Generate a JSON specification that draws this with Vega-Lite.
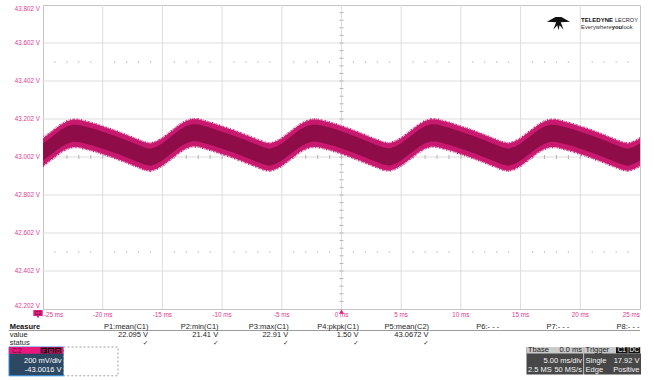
{
  "$schema": "https://vega.github.io/schema/vega-lite/v6.json",
  "width": 597,
  "height": 304,
  "autosize": "none",
  "padding": {"left": 43, "top": 5, "right": 14, "bottom": 71},
  "background": "#ffffff",
  "config": {
    "font": "Liberation Sans",
    "view": {"stroke": "#c4c4c4", "strokeWidth": 1},
    "text": {"font": "Liberation Sans"}
  },
  "datasets": {
    "trace": [
      {"t": -25, "lo": 42.956, "hi": 43.100, "clo": 42.983, "chi": 43.073},
      {"t": -24.5, "lo": 42.980, "hi": 43.124, "clo": 43.007, "chi": 43.097},
      {"t": -24, "lo": 43.004, "hi": 43.148, "clo": 43.031, "chi": 43.121},
      {"t": -23.5, "lo": 43.028, "hi": 43.172, "clo": 43.055, "chi": 43.145},
      {"t": -23, "lo": 43.045, "hi": 43.189, "clo": 43.072, "chi": 43.162},
      {"t": -22.5, "lo": 43.055, "hi": 43.199, "clo": 43.082, "chi": 43.172},
      {"t": -22, "lo": 43.054, "hi": 43.198, "clo": 43.081, "chi": 43.171},
      {"t": -21.5, "lo": 43.046, "hi": 43.190, "clo": 43.073, "chi": 43.163},
      {"t": -21, "lo": 43.038, "hi": 43.182, "clo": 43.065, "chi": 43.155},
      {"t": -20.5, "lo": 43.029, "hi": 43.173, "clo": 43.056, "chi": 43.146},
      {"t": -20, "lo": 43.018, "hi": 43.162, "clo": 43.045, "chi": 43.135},
      {"t": -19.5, "lo": 43.008, "hi": 43.152, "clo": 43.035, "chi": 43.125},
      {"t": -19, "lo": 42.997, "hi": 43.141, "clo": 43.024, "chi": 43.114},
      {"t": -18.5, "lo": 42.985, "hi": 43.129, "clo": 43.012, "chi": 43.102},
      {"t": -18, "lo": 42.973, "hi": 43.117, "clo": 43.000, "chi": 43.090},
      {"t": -17.5, "lo": 42.960, "hi": 43.104, "clo": 42.987, "chi": 43.077},
      {"t": -17, "lo": 42.948, "hi": 43.092, "clo": 42.975, "chi": 43.065},
      {"t": -16.5, "lo": 42.935, "hi": 43.079, "clo": 42.962, "chi": 43.052},
      {"t": -16, "lo": 42.929, "hi": 43.073, "clo": 42.956, "chi": 43.046},
      {"t": -15.5, "lo": 42.939, "hi": 43.083, "clo": 42.966, "chi": 43.056},
      {"t": -15, "lo": 42.957, "hi": 43.101, "clo": 42.984, "chi": 43.074},
      {"t": -14.5, "lo": 42.981, "hi": 43.125, "clo": 43.008, "chi": 43.098},
      {"t": -14, "lo": 43.006, "hi": 43.150, "clo": 43.033, "chi": 43.123},
      {"t": -13.5, "lo": 43.030, "hi": 43.174, "clo": 43.057, "chi": 43.147},
      {"t": -13, "lo": 43.048, "hi": 43.192, "clo": 43.075, "chi": 43.165},
      {"t": -12.5, "lo": 43.058, "hi": 43.202, "clo": 43.085, "chi": 43.175},
      {"t": -12, "lo": 43.057, "hi": 43.201, "clo": 43.084, "chi": 43.174},
      {"t": -11.5, "lo": 43.048, "hi": 43.192, "clo": 43.075, "chi": 43.165},
      {"t": -11, "lo": 43.039, "hi": 43.183, "clo": 43.066, "chi": 43.156},
      {"t": -10.5, "lo": 43.029, "hi": 43.173, "clo": 43.056, "chi": 43.146},
      {"t": -10, "lo": 43.018, "hi": 43.162, "clo": 43.045, "chi": 43.135},
      {"t": -9.5, "lo": 43.008, "hi": 43.152, "clo": 43.035, "chi": 43.125},
      {"t": -9, "lo": 42.997, "hi": 43.141, "clo": 43.024, "chi": 43.114},
      {"t": -8.5, "lo": 42.985, "hi": 43.129, "clo": 43.012, "chi": 43.102},
      {"t": -8, "lo": 42.973, "hi": 43.117, "clo": 43.000, "chi": 43.090},
      {"t": -7.5, "lo": 42.960, "hi": 43.104, "clo": 42.987, "chi": 43.077},
      {"t": -7, "lo": 42.948, "hi": 43.092, "clo": 42.975, "chi": 43.065},
      {"t": -6.5, "lo": 42.935, "hi": 43.079, "clo": 42.962, "chi": 43.052},
      {"t": -6, "lo": 42.929, "hi": 43.073, "clo": 42.956, "chi": 43.046},
      {"t": -5.5, "lo": 42.939, "hi": 43.083, "clo": 42.966, "chi": 43.056},
      {"t": -5, "lo": 42.956, "hi": 43.100, "clo": 42.983, "chi": 43.073},
      {"t": -4.5, "lo": 42.980, "hi": 43.124, "clo": 43.007, "chi": 43.097},
      {"t": -4, "lo": 43.004, "hi": 43.148, "clo": 43.031, "chi": 43.121},
      {"t": -3.5, "lo": 43.028, "hi": 43.172, "clo": 43.055, "chi": 43.145},
      {"t": -3, "lo": 43.045, "hi": 43.189, "clo": 43.072, "chi": 43.162},
      {"t": -2.5, "lo": 43.055, "hi": 43.199, "clo": 43.082, "chi": 43.172},
      {"t": -2, "lo": 43.055, "hi": 43.199, "clo": 43.082, "chi": 43.172},
      {"t": -1.5, "lo": 43.048, "hi": 43.192, "clo": 43.075, "chi": 43.165},
      {"t": -1, "lo": 43.040, "hi": 43.184, "clo": 43.067, "chi": 43.157},
      {"t": -0.5, "lo": 43.031, "hi": 43.175, "clo": 43.058, "chi": 43.148},
      {"t": 0, "lo": 43.020, "hi": 43.164, "clo": 43.047, "chi": 43.137},
      {"t": 0.5, "lo": 43.009, "hi": 43.153, "clo": 43.036, "chi": 43.126},
      {"t": 1, "lo": 42.997, "hi": 43.141, "clo": 43.024, "chi": 43.114},
      {"t": 1.5, "lo": 42.985, "hi": 43.129, "clo": 43.012, "chi": 43.102},
      {"t": 2, "lo": 42.972, "hi": 43.116, "clo": 42.999, "chi": 43.089},
      {"t": 2.5, "lo": 42.959, "hi": 43.103, "clo": 42.986, "chi": 43.076},
      {"t": 3, "lo": 42.947, "hi": 43.091, "clo": 42.974, "chi": 43.064},
      {"t": 3.5, "lo": 42.935, "hi": 43.079, "clo": 42.962, "chi": 43.052},
      {"t": 4, "lo": 42.930, "hi": 43.074, "clo": 42.957, "chi": 43.047},
      {"t": 4.5, "lo": 42.940, "hi": 43.084, "clo": 42.967, "chi": 43.057},
      {"t": 5, "lo": 42.957, "hi": 43.101, "clo": 42.984, "chi": 43.074},
      {"t": 5.5, "lo": 42.981, "hi": 43.125, "clo": 43.008, "chi": 43.098},
      {"t": 6, "lo": 43.005, "hi": 43.149, "clo": 43.032, "chi": 43.122},
      {"t": 6.5, "lo": 43.029, "hi": 43.173, "clo": 43.056, "chi": 43.146},
      {"t": 7, "lo": 43.047, "hi": 43.191, "clo": 43.074, "chi": 43.164},
      {"t": 7.5, "lo": 43.057, "hi": 43.201, "clo": 43.084, "chi": 43.174},
      {"t": 8, "lo": 43.056, "hi": 43.200, "clo": 43.083, "chi": 43.173},
      {"t": 8.5, "lo": 43.047, "hi": 43.191, "clo": 43.074, "chi": 43.164},
      {"t": 9, "lo": 43.039, "hi": 43.183, "clo": 43.066, "chi": 43.156},
      {"t": 9.5, "lo": 43.029, "hi": 43.173, "clo": 43.056, "chi": 43.146},
      {"t": 10, "lo": 43.018, "hi": 43.162, "clo": 43.045, "chi": 43.135},
      {"t": 10.5, "lo": 43.008, "hi": 43.152, "clo": 43.035, "chi": 43.125},
      {"t": 11, "lo": 42.997, "hi": 43.141, "clo": 43.024, "chi": 43.114},
      {"t": 11.5, "lo": 42.985, "hi": 43.129, "clo": 43.012, "chi": 43.102},
      {"t": 12, "lo": 42.973, "hi": 43.117, "clo": 43.000, "chi": 43.090},
      {"t": 12.5, "lo": 42.960, "hi": 43.104, "clo": 42.987, "chi": 43.077},
      {"t": 13, "lo": 42.948, "hi": 43.092, "clo": 42.975, "chi": 43.065},
      {"t": 13.5, "lo": 42.935, "hi": 43.079, "clo": 42.962, "chi": 43.052},
      {"t": 14, "lo": 42.929, "hi": 43.073, "clo": 42.956, "chi": 43.046},
      {"t": 14.5, "lo": 42.939, "hi": 43.083, "clo": 42.966, "chi": 43.056},
      {"t": 15, "lo": 42.956, "hi": 43.100, "clo": 42.983, "chi": 43.073},
      {"t": 15.5, "lo": 42.980, "hi": 43.124, "clo": 43.007, "chi": 43.097},
      {"t": 16, "lo": 43.004, "hi": 43.148, "clo": 43.031, "chi": 43.121},
      {"t": 16.5, "lo": 43.028, "hi": 43.172, "clo": 43.055, "chi": 43.145},
      {"t": 17, "lo": 43.045, "hi": 43.189, "clo": 43.072, "chi": 43.162},
      {"t": 17.5, "lo": 43.055, "hi": 43.199, "clo": 43.082, "chi": 43.172},
      {"t": 18, "lo": 43.054, "hi": 43.198, "clo": 43.081, "chi": 43.171},
      {"t": 18.5, "lo": 43.046, "hi": 43.190, "clo": 43.073, "chi": 43.163},
      {"t": 19, "lo": 43.038, "hi": 43.182, "clo": 43.065, "chi": 43.155},
      {"t": 19.5, "lo": 43.029, "hi": 43.173, "clo": 43.056, "chi": 43.146},
      {"t": 20, "lo": 43.018, "hi": 43.162, "clo": 43.045, "chi": 43.135},
      {"t": 20.5, "lo": 43.008, "hi": 43.152, "clo": 43.035, "chi": 43.125},
      {"t": 21, "lo": 42.997, "hi": 43.141, "clo": 43.024, "chi": 43.114},
      {"t": 21.5, "lo": 42.985, "hi": 43.129, "clo": 43.012, "chi": 43.102},
      {"t": 22, "lo": 42.973, "hi": 43.117, "clo": 43.000, "chi": 43.090},
      {"t": 22.5, "lo": 42.960, "hi": 43.104, "clo": 42.987, "chi": 43.077},
      {"t": 23, "lo": 42.948, "hi": 43.092, "clo": 42.975, "chi": 43.065},
      {"t": 23.5, "lo": 42.935, "hi": 43.079, "clo": 42.962, "chi": 43.052},
      {"t": 24, "lo": 42.929, "hi": 43.073, "clo": 42.956, "chi": 43.046},
      {"t": 24.5, "lo": 42.939, "hi": 43.083, "clo": 42.966, "chi": 43.056},
      {"t": 25, "lo": 42.956, "hi": 43.100, "clo": 42.983, "chi": 43.073}
    ],
    "tdivs": [
      {"t": -25, "label": "-25 ms"}, {"t": -20, "label": "-20 ms"}, {"t": -15, "label": "-15 ms"},
      {"t": -10, "label": "-10 ms"}, {"t": -5, "label": "-5 ms"}, {"t": 0, "label": "0 ms"},
      {"t": 5, "label": "5 ms"}, {"t": 10, "label": "10 ms"}, {"t": 15, "label": "15 ms"},
      {"t": 20, "label": "20 ms"}, {"t": 25, "label": "25 ms"}
    ],
    "vdivs": [
      {"v": 42.202, "label": "42.202 V"}, {"v": 42.402, "label": "42.402 V"}, {"v": 42.602, "label": "42.602 V"},
      {"v": 42.802, "label": "42.802 V"}, {"v": 43.002, "label": "43.002 V"}, {"v": 43.202, "label": "43.202 V"},
      {"v": 43.402, "label": "43.402 V"}, {"v": 43.602, "label": "43.602 V"}, {"v": 43.802, "label": "43.802 V"}
    ],
    "ms": [
      {"t": -24}, {"t": -23}, {"t": -22}, {"t": -21}, {"t": -20}, {"t": -19}, {"t": -18}, {"t": -17}, {"t": -16}, {"t": -15},
      {"t": -14}, {"t": -13}, {"t": -12}, {"t": -11}, {"t": -10}, {"t": -9}, {"t": -8}, {"t": -7}, {"t": -6}, {"t": -5},
      {"t": -4}, {"t": -3}, {"t": -2}, {"t": -1}, {"t": 0}, {"t": 1}, {"t": 2}, {"t": 3}, {"t": 4}, {"t": 5},
      {"t": 6}, {"t": 7}, {"t": 8}, {"t": 9}, {"t": 10}, {"t": 11}, {"t": 12}, {"t": 13}, {"t": 14}, {"t": 15},
      {"t": 16}, {"t": 17}, {"t": 18}, {"t": 19}, {"t": 20}, {"t": 21}, {"t": 22}, {"t": 23}, {"t": 24}
    ],
    "volts": [
      {"v": 42.242}, {"v": 42.282}, {"v": 42.322}, {"v": 42.362}, {"v": 42.402}, {"v": 42.442}, {"v": 42.482}, {"v": 42.522},
      {"v": 42.562}, {"v": 42.602}, {"v": 42.642}, {"v": 42.682}, {"v": 42.722}, {"v": 42.762}, {"v": 42.802}, {"v": 42.842},
      {"v": 42.882}, {"v": 42.922}, {"v": 42.962}, {"v": 43.002}, {"v": 43.042}, {"v": 43.082}, {"v": 43.122}, {"v": 43.162},
      {"v": 43.202}, {"v": 43.242}, {"v": 43.282}, {"v": 43.322}, {"v": 43.362}, {"v": 43.402}, {"v": 43.442}, {"v": 43.482},
      {"v": 43.522}, {"v": 43.562}, {"v": 43.602}, {"v": 43.642}, {"v": 43.682}, {"v": 43.722}, {"v": 43.762}
    ],
    "markers": [
      {"kind": "trigger", "t": 0, "v": 42.202, "label": ""},
      {"kind": "offset", "t": -25, "v": 42.202, "label": "C2"}
    ],
    "brand": [{"name": "Teledyne LeCroy"}],
    "rowlabels": [{"label": "Measure"}, {"label": "value"}, {"label": "status"}],
    "params": [
      {"col": "P1", "header": "P1:mean(C1)", "value": "22.095 V", "status": "✓"},
      {"col": "P2", "header": "P2:min(C1)", "value": "21.41 V", "status": "✓"},
      {"col": "P3", "header": "P3:max(C1)", "value": "22.91 V", "status": "✓"},
      {"col": "P4", "header": "P4:pkpk(C1)", "value": "1.50 V", "status": "✓"},
      {"col": "P5", "header": "P5:mean(C2)", "value": "43.0672 V", "status": "✓"},
      {"col": "P6", "header": "P6:- - -", "value": "", "status": ""},
      {"col": "P7", "header": "P7:- - -", "value": "", "status": ""},
      {"col": "P8", "header": "P8:- - -", "value": "", "status": ""}
    ],
    "channel": [{"widget": "C2", "name": "C2", "scale": "200 mV/div", "offset": "-43.0016 V"}],
    "flags": [{"flag": "F"}, {"flag": "B"}, {"flag": "D"}],
    "acq": [
      {"widget": "Tbase", "line": "head", "left": "Tbase", "right": "0.0 ms"},
      {"widget": "Tbase", "line": "l1", "left": "", "right": "5.00 ms/div"},
      {"widget": "Tbase", "line": "l2", "left": "2.5 MS", "right": "50 MS/s"},
      {"widget": "Trigger", "line": "head", "left": "Trigger", "right": ""},
      {"widget": "Trigger", "line": "l1", "left": "Single", "right": "17.92 V"},
      {"widget": "Trigger", "line": "l2", "left": "Edge", "right": "Positive"}
    ],
    "tags": [{"tag": "C1"}, {"tag": "DC"}]
  },
  "resolve": {"scale": {"x": "independent", "y": "independent"}},
  "layer": [
    {
      "layer": [
        {
          "data": {"name": "tdivs"},
          "transform": [{"filter": "datum.t > -25 && datum.t < 25"}],
          "mark": {"type": "rule", "color": "#dddddd", "strokeWidth": 1},
          "encoding": {
            "x": {"field": "t", "type": "quantitative", "scale": {"domain": [-25, 25], "nice": false, "zero": false}, "axis": null}
          }
        },
        {
          "data": {"name": "vdivs"},
          "transform": [{"filter": "datum.v > 42.21 && datum.v < 43.79"}],
          "mark": {"type": "rule", "color": "#dddddd", "strokeWidth": 1},
          "encoding": {
            "y": {"field": "v", "type": "quantitative", "scale": {"domain": [42.202, 43.802], "nice": false, "zero": false}, "axis": null}
          }
        },
        {
          "data": {"name": "ms"},
          "mark": {"type": "tick", "orient": "vertical", "size": 4, "thickness": 1, "color": "#b5b5b5", "opacity": 1},
          "encoding": {
            "x": {"field": "t", "type": "quantitative", "scale": {"domain": [-25, 25], "nice": false, "zero": false}, "axis": null},
            "y": {"datum": 43.002, "type": "quantitative", "scale": {"domain": [42.202, 43.802], "nice": false, "zero": false}, "axis": null}
          }
        },
        {
          "data": {"name": "ms"},
          "transform": [{"filter": "datum.t % 5 !== 0"}],
          "mark": {"type": "tick", "orient": "vertical", "size": 2, "thickness": 1, "color": "#c9c9c9", "opacity": 1},
          "encoding": {
            "x": {"field": "t", "type": "quantitative", "scale": {"domain": [-25, 25], "nice": false, "zero": false}, "axis": null},
            "y": {"datum": 43.502, "type": "quantitative", "scale": {"domain": [42.202, 43.802], "nice": false, "zero": false}, "axis": null}
          }
        },
        {
          "data": {"name": "ms"},
          "transform": [{"filter": "datum.t % 5 !== 0"}],
          "mark": {"type": "tick", "orient": "vertical", "size": 2, "thickness": 1, "color": "#c9c9c9", "opacity": 1},
          "encoding": {
            "x": {"field": "t", "type": "quantitative", "scale": {"domain": [-25, 25], "nice": false, "zero": false}, "axis": null},
            "y": {"datum": 42.502, "type": "quantitative", "scale": {"domain": [42.202, 43.802], "nice": false, "zero": false}, "axis": null}
          }
        },
        {
          "data": {"name": "volts"},
          "mark": {"type": "tick", "orient": "horizontal", "size": 4, "thickness": 1, "color": "#b5b5b5", "opacity": 1},
          "encoding": {
            "x": {"datum": 0, "type": "quantitative", "scale": {"domain": [-25, 25], "nice": false, "zero": false}, "axis": null},
            "y": {"field": "v", "type": "quantitative", "scale": {"domain": [42.202, 43.802], "nice": false, "zero": false}, "axis": null}
          }
        },
        {
          "data": {"name": "trace"},
          "mark": {"type": "area", "fill": "#c8196e", "stroke": "#cc2277", "strokeWidth": 2.4, "strokeDash": [1, 0.7, 0.6, 1.3, 1.4, 0.9, 0.5, 1.1], "clip": true},
          "encoding": {
            "x": {"field": "t", "type": "quantitative", "scale": {"domain": [-25, 25], "nice": false, "zero": false}, "axis": null},
            "y": {"field": "lo", "type": "quantitative", "scale": {"domain": [42.202, 43.802], "nice": false, "zero": false}, "axis": null},
            "y2": {"field": "hi"}
          }
        },
        {
          "data": {"name": "trace"},
          "mark": {"type": "area", "fill": "#8e0c48", "clip": true},
          "encoding": {
            "x": {"field": "t", "type": "quantitative", "scale": {"domain": [-25, 25], "nice": false, "zero": false}, "axis": null},
            "y": {"field": "clo", "type": "quantitative", "scale": {"domain": [42.202, 43.802], "nice": false, "zero": false}, "axis": null},
            "y2": {"field": "chi"}
          }
        },
        {
          "data": {"name": "vdivs"},
          "transform": [{"filter": "datum.v > 42.21 && datum.v < 43.79"}],
          "mark": {"type": "text", "align": "right", "baseline": "middle", "dx": -3, "fontSize": 6.3, "color": "#dc3d8f"},
          "encoding": {
            "x": {"datum": -25, "type": "quantitative", "scale": {"domain": [-25, 25], "nice": false, "zero": false}, "axis": null},
            "y": {"field": "v", "type": "quantitative", "scale": {"domain": [42.202, 43.802], "nice": false, "zero": false}, "axis": null},
            "text": {"field": "label"}
          }
        },
        {
          "data": {"name": "vdivs"},
          "transform": [{"filter": "datum.v > 43.79"}],
          "mark": {"type": "text", "align": "right", "baseline": "top", "dx": -3, "dy": 0.5, "fontSize": 6.3, "color": "#dc3d8f"},
          "encoding": {
            "x": {"datum": -25, "type": "quantitative", "scale": {"domain": [-25, 25], "nice": false, "zero": false}, "axis": null},
            "y": {"field": "v", "type": "quantitative", "scale": {"domain": [42.202, 43.802], "nice": false, "zero": false}, "axis": null},
            "text": {"field": "label"}
          }
        },
        {
          "data": {"name": "vdivs"},
          "transform": [{"filter": "datum.v < 42.21"}],
          "mark": {"type": "text", "align": "right", "baseline": "bottom", "dx": -3, "fontSize": 6.3, "color": "#dc3d8f"},
          "encoding": {
            "x": {"datum": -25, "type": "quantitative", "scale": {"domain": [-25, 25], "nice": false, "zero": false}, "axis": null},
            "y": {"field": "v", "type": "quantitative", "scale": {"domain": [42.202, 43.802], "nice": false, "zero": false}, "axis": null},
            "text": {"field": "label"}
          }
        },
        {
          "data": {"name": "tdivs"},
          "transform": [{"filter": "datum.t > -25 && datum.t < 25"}],
          "mark": {"type": "text", "align": "center", "baseline": "top", "dy": 2.5, "fontSize": 6.3, "color": "#dc3d8f"},
          "encoding": {
            "x": {"field": "t", "type": "quantitative", "scale": {"domain": [-25, 25], "nice": false, "zero": false}, "axis": null},
            "y": {"datum": 42.202, "type": "quantitative", "scale": {"domain": [42.202, 43.802], "nice": false, "zero": false}, "axis": null},
            "text": {"field": "label"}
          }
        },
        {
          "data": {"name": "tdivs"},
          "transform": [{"filter": "datum.t === -25"}],
          "mark": {"type": "text", "align": "left", "baseline": "top", "dy": 2.5, "dx": 1, "fontSize": 6.3, "color": "#dc3d8f"},
          "encoding": {
            "x": {"field": "t", "type": "quantitative", "scale": {"domain": [-25, 25], "nice": false, "zero": false}, "axis": null},
            "y": {"datum": 42.202, "type": "quantitative", "scale": {"domain": [42.202, 43.802], "nice": false, "zero": false}, "axis": null},
            "text": {"field": "label"}
          }
        },
        {
          "data": {"name": "tdivs"},
          "transform": [{"filter": "datum.t === 25"}],
          "mark": {"type": "text", "align": "right", "baseline": "top", "dy": 2.5, "fontSize": 6.3, "color": "#dc3d8f"},
          "encoding": {
            "x": {"field": "t", "type": "quantitative", "scale": {"domain": [-25, 25], "nice": false, "zero": false}, "axis": null},
            "y": {"datum": 42.202, "type": "quantitative", "scale": {"domain": [42.202, 43.802], "nice": false, "zero": false}, "axis": null},
            "text": {"field": "label"}
          }
        },
        {
          "data": {"name": "markers"},
          "transform": [{"filter": "datum.kind === 'trigger'"}],
          "mark": {"type": "point", "shape": "M0,0.2 L0.85,1.6 L-0.85,1.6 Z", "size": 36, "filled": true, "color": "#e2207f", "opacity": 1, "strokeWidth": 0},
          "encoding": {
            "x": {"field": "t", "type": "quantitative", "scale": {"domain": [-25, 25], "nice": false, "zero": false}, "axis": null},
            "y": {"field": "v", "type": "quantitative", "scale": {"domain": [42.202, 43.802], "nice": false, "zero": false}, "axis": null}
          }
        },
        {
          "data": {"name": "markers"},
          "transform": [{"filter": "datum.kind === 'offset'"}],
          "mark": {"type": "point", "shape": "M-3.23,0.33 L-0.1,0.33 L-0.1,2.33 L-1.2,2.33 L-1.67,3.1 L-2.14,2.33 L-3.23,2.33 Z", "size": 36, "filled": true, "color": "#e2207f", "opacity": 1, "strokeWidth": 0},
          "encoding": {
            "x": {"field": "t", "type": "quantitative", "scale": {"domain": [-25, 25], "nice": false, "zero": false}, "axis": null},
            "y": {"field": "v", "type": "quantitative", "scale": {"domain": [42.202, 43.802], "nice": false, "zero": false}, "axis": null}
          }
        },
        {
          "data": {"name": "markers"},
          "transform": [{"filter": "datum.kind === 'offset'"}],
          "mark": {"type": "text", "align": "center", "baseline": "middle", "dx": -5, "dy": 4, "fontSize": 5, "color": "#5e002c"},
          "encoding": {
            "x": {"field": "t", "type": "quantitative", "scale": {"domain": [-25, 25], "nice": false, "zero": false}, "axis": null},
            "y": {"field": "v", "type": "quantitative", "scale": {"domain": [42.202, 43.802], "nice": false, "zero": false}, "axis": null},
            "text": {"field": "label"}
          }
        },
        {
          "data": {"name": "brand"},
          "mark": {"type": "point", "shape": "M-1,-0.15 L-0.25,-0.55 L0.25,-0.55 L1,-0.15 L0.2,-0.1 L0.45,0.55 L0.1,0.15 L0,0.6 L-0.1,0.15 L-0.45,0.55 L-0.2,-0.1 Z", "size": 529, "filled": true, "color": "#111111", "opacity": 1, "strokeWidth": 0},
          "encoding": {
            "x": {"datum": 18.17, "type": "quantitative", "scale": {"domain": [-25, 25], "nice": false, "zero": false}, "axis": null},
            "y": {"datum": 43.705, "type": "quantitative", "scale": {"domain": [42.202, 43.802], "nice": false, "zero": false}, "axis": null}
          }
        },
        {
          "data": {"name": "brand"},
          "mark": {"type": "text", "text": "TELEDYNE", "align": "left", "baseline": "middle", "fontSize": 6, "fontWeight": "bold", "color": "#111111"},
          "encoding": {
            "x": {"datum": 20.06, "type": "quantitative", "scale": {"domain": [-25, 25], "nice": false, "zero": false}, "axis": null},
            "y": {"datum": 43.723, "type": "quantitative", "scale": {"domain": [42.202, 43.802], "nice": false, "zero": false}, "axis": null}
          }
        },
        {
          "data": {"name": "brand"},
          "mark": {"type": "text", "text": "LECROY", "align": "left", "baseline": "middle", "fontSize": 5.6, "color": "#222222"},
          "encoding": {
            "x": {"datum": 22.9, "type": "quantitative", "scale": {"domain": [-25, 25], "nice": false, "zero": false}, "axis": null},
            "y": {"datum": 43.723, "type": "quantitative", "scale": {"domain": [42.202, 43.802], "nice": false, "zero": false}, "axis": null}
          }
        },
        {
          "data": {"name": "brand"},
          "mark": {"type": "text", "text": "Everywhere", "align": "left", "baseline": "middle", "fontSize": 5.8, "color": "#333333"},
          "encoding": {
            "x": {"datum": 20.06, "type": "quantitative", "scale": {"domain": [-25, 25], "nice": false, "zero": false}, "axis": null},
            "y": {"datum": 43.6888, "type": "quantitative", "scale": {"domain": [42.202, 43.802], "nice": false, "zero": false}, "axis": null}
          }
        },
        {
          "data": {"name": "brand"},
          "mark": {"type": "text", "text": "you", "align": "left", "baseline": "middle", "fontSize": 5.8, "fontWeight": "bold", "color": "#111111"},
          "encoding": {
            "x": {"datum": 22.64, "type": "quantitative", "scale": {"domain": [-25, 25], "nice": false, "zero": false}, "axis": null},
            "y": {"datum": 43.6888, "type": "quantitative", "scale": {"domain": [42.202, 43.802], "nice": false, "zero": false}, "axis": null}
          }
        },
        {
          "data": {"name": "brand"},
          "mark": {"type": "text", "text": "look", "align": "left", "baseline": "middle", "fontSize": 5.8, "color": "#333333"},
          "encoding": {
            "x": {"datum": 23.5, "type": "quantitative", "scale": {"domain": [-25, 25], "nice": false, "zero": false}, "axis": null},
            "y": {"datum": 43.6888, "type": "quantitative", "scale": {"domain": [42.202, 43.802], "nice": false, "zero": false}, "axis": null}
          }
        }
      ]
    },
    {
      "layer": [
        {
          "data": {"name": "rowlabels"},
          "transform": [{"filter": "datum.label !== 'Measure'"}],
          "mark": {"type": "text", "align": "left", "baseline": "middle", "fontSize": 7.5, "color": "#1e1e1e", "dx": 1},
          "encoding": {
            "x": {"datum": "Measure", "type": "nominal", "bandPosition": 0, "axis": null, "scale": {"type": "band", "domain": ["Measure", "P1", "P2", "P3", "P4", "P5", "P6", "P7", "P8"], "range": [-34.3, 597], "paddingInner": 0, "paddingOuter": 0}},
            "y": {"field": "label", "type": "nominal", "bandPosition": 0.5, "axis": null, "scale": {"type": "band", "domain": ["Measure", "value", "status"], "range": [317.5, 341.5], "paddingInner": 0, "paddingOuter": 0}},
            "text": {"field": "label"}
          }
        },
        {
          "data": {"name": "rowlabels"},
          "transform": [{"filter": "datum.label === 'Measure'"}],
          "mark": {"type": "text", "align": "left", "baseline": "middle", "fontSize": 7.5, "fontWeight": "bold", "color": "#111111", "dx": 1},
          "encoding": {
            "x": {"datum": "Measure", "type": "nominal", "bandPosition": 0, "axis": null, "scale": {"type": "band", "domain": ["Measure", "P1", "P2", "P3", "P4", "P5", "P6", "P7", "P8"], "range": [-34.3, 597], "paddingInner": 0, "paddingOuter": 0}},
            "y": {"field": "label", "type": "nominal", "bandPosition": 0.5, "axis": null, "scale": {"type": "band", "domain": ["Measure", "value", "status"], "range": [317.5, 341.5], "paddingInner": 0, "paddingOuter": 0}},
            "text": {"field": "label"}
          }
        },
        {
          "data": {"name": "rowlabels"},
          "transform": [{"filter": "datum.label === 'Measure'"}],
          "mark": {"type": "tick", "orient": "horizontal", "size": 70.2, "thickness": 1, "color": "#9a9a9a", "opacity": 1},
          "encoding": {
            "x": {"datum": "Measure", "type": "nominal", "bandPosition": 0.5, "axis": null, "scale": {"type": "band", "domain": ["Measure", "P1", "P2", "P3", "P4", "P5", "P6", "P7", "P8"], "range": [-34.3, 597], "paddingInner": 0, "paddingOuter": 0}},
            "y": {"datum": "Measure", "type": "nominal", "bandPosition": 1, "axis": null, "scale": {"type": "band", "domain": ["Measure", "value", "status"], "range": [317.5, 341.5], "paddingInner": 0, "paddingOuter": 0}}
          }
        },
        {
          "data": {"name": "params"},
          "mark": {"type": "tick", "orient": "horizontal", "size": 70.2, "thickness": 1, "color": "#9a9a9a", "opacity": 1},
          "encoding": {
            "x": {"field": "col", "type": "nominal", "bandPosition": 0.5, "axis": null, "scale": {"type": "band", "domain": ["Measure", "P1", "P2", "P3", "P4", "P5", "P6", "P7", "P8"], "range": [-34.3, 597], "paddingInner": 0, "paddingOuter": 0}},
            "y": {"datum": "Measure", "type": "nominal", "bandPosition": 1, "axis": null, "scale": {"type": "band", "domain": ["Measure", "value", "status"], "range": [317.5, 341.5], "paddingInner": 0, "paddingOuter": 0}}
          }
        },
        {
          "data": {"name": "params"},
          "mark": {"type": "text", "align": "right", "baseline": "middle", "fontSize": 7.5, "color": "#1e1e1e", "dx": -0.5},
          "encoding": {
            "x": {"field": "col", "type": "nominal", "bandPosition": 1, "axis": null, "scale": {"type": "band", "domain": ["Measure", "P1", "P2", "P3", "P4", "P5", "P6", "P7", "P8"], "range": [-34.3, 597], "paddingInner": 0, "paddingOuter": 0}},
            "y": {"datum": "Measure", "type": "nominal", "bandPosition": 0.5, "axis": null, "scale": {"type": "band", "domain": ["Measure", "value", "status"], "range": [317.5, 341.5], "paddingInner": 0, "paddingOuter": 0}},
            "text": {"field": "header"}
          }
        },
        {
          "data": {"name": "params"},
          "mark": {"type": "text", "align": "right", "baseline": "middle", "fontSize": 7.5, "color": "#1e1e1e", "dx": -1},
          "encoding": {
            "x": {"field": "col", "type": "nominal", "bandPosition": 1, "axis": null, "scale": {"type": "band", "domain": ["Measure", "P1", "P2", "P3", "P4", "P5", "P6", "P7", "P8"], "range": [-34.3, 597], "paddingInner": 0, "paddingOuter": 0}},
            "y": {"datum": "value", "type": "nominal", "bandPosition": 0.5, "axis": null, "scale": {"type": "band", "domain": ["Measure", "value", "status"], "range": [317.5, 341.5], "paddingInner": 0, "paddingOuter": 0}},
            "text": {"field": "value"}
          }
        },
        {
          "data": {"name": "params"},
          "mark": {"type": "text", "align": "center", "baseline": "middle", "fontSize": 6.5, "fontWeight": "bold", "font": "DejaVu Sans", "color": "#222222", "dx": -3.5},
          "encoding": {
            "x": {"field": "col", "type": "nominal", "bandPosition": 1, "axis": null, "scale": {"type": "band", "domain": ["Measure", "P1", "P2", "P3", "P4", "P5", "P6", "P7", "P8"], "range": [-34.3, 597], "paddingInner": 0, "paddingOuter": 0}},
            "y": {"datum": "status", "type": "nominal", "bandPosition": 0.6, "axis": null, "scale": {"type": "band", "domain": ["Measure", "value", "status"], "range": [317.5, 341.5], "paddingInner": 0, "paddingOuter": 0}},
            "text": {"field": "status"}
          }
        }
      ]
    },
    {
      "resolve": {"scale": {"x": "independent"}},
      "layer": [
        {
          "data": {"name": "channel"},
          "mark": {"type": "rect", "fill": "#2d4862", "stroke": "#2f8fe0", "strokeWidth": 1},
          "encoding": {
            "x": {"field": "widget", "type": "nominal", "axis": null, "scale": {"type": "band", "domain": ["C2", "spare"], "range": [-34, 75], "paddingInner": 0, "paddingOuter": 0}},
            "y": {"datum": "head", "type": "nominal", "bandPosition": 0, "axis": null, "scale": {"type": "band", "domain": ["head", "l1", "l2"], "range": [342, 370.8], "paddingInner": 0, "paddingOuter": 0}},
            "y2": {"datum": "l2", "bandPosition": 1}
          }
        },
        {
          "data": {"name": "channel"},
          "mark": {"type": "rect", "fill": "#e8187c"},
          "encoding": {
            "x": {"field": "widget", "type": "nominal", "axis": null, "scale": {"type": "band", "domain": ["C2", "spare"], "range": [-34, 75], "paddingInner": 0, "paddingOuter": 0}},
            "y": {"datum": "head", "type": "nominal", "bandPosition": 0, "axis": null, "scale": {"type": "band", "domain": ["head", "l1", "l2"], "range": [342, 370.8], "paddingInner": 0, "paddingOuter": 0}},
            "y2": {"datum": "head", "bandPosition": 0.7}
          }
        },
        {
          "data": {"name": "flags"},
          "mark": {"type": "rect", "fill": "#1a0810"},
          "encoding": {
            "x": {"field": "flag", "type": "nominal", "axis": null, "scale": {"type": "band", "domain": ["F", "B", "D"], "range": [-2.3, 18.3], "paddingInner": 0.08, "paddingOuter": 0}},
            "y": {"datum": "head", "type": "nominal", "bandPosition": 0.06, "axis": null, "scale": {"type": "band", "domain": ["head", "l1", "l2"], "range": [342, 370.8], "paddingInner": 0, "paddingOuter": 0}},
            "y2": {"datum": "head", "bandPosition": 0.66}
          }
        },
        {
          "data": {"name": "flags"},
          "mark": {"type": "text", "align": "center", "baseline": "middle", "fontSize": 6, "fontWeight": "bold", "color": "#e8187c"},
          "encoding": {
            "x": {"field": "flag", "type": "nominal", "bandPosition": 0.5, "axis": null, "scale": {"type": "band", "domain": ["F", "B", "D"], "range": [-2.3, 18.3], "paddingInner": 0.08, "paddingOuter": 0}},
            "y": {"datum": "head", "type": "nominal", "bandPosition": 0.38, "axis": null, "scale": {"type": "band", "domain": ["head", "l1", "l2"], "range": [342, 370.8], "paddingInner": 0, "paddingOuter": 0}},
            "text": {"field": "flag"}
          }
        },
        {
          "data": {"name": "channel"},
          "mark": {"type": "text", "align": "left", "baseline": "middle", "fontSize": 7.5, "color": "#7a0038", "dx": 3},
          "encoding": {
            "x": {"field": "widget", "type": "nominal", "bandPosition": 0, "axis": null, "scale": {"type": "band", "domain": ["C2", "spare"], "range": [-34, 75], "paddingInner": 0, "paddingOuter": 0}},
            "y": {"datum": "head", "type": "nominal", "bandPosition": 0.38, "axis": null, "scale": {"type": "band", "domain": ["head", "l1", "l2"], "range": [342, 370.8], "paddingInner": 0, "paddingOuter": 0}},
            "text": {"field": "name"}
          }
        },
        {
          "data": {"name": "channel"},
          "mark": {"type": "text", "align": "right", "baseline": "middle", "fontSize": 7.5, "color": "#ffffff", "dx": -2},
          "encoding": {
            "x": {"field": "widget", "type": "nominal", "bandPosition": 1, "axis": null, "scale": {"type": "band", "domain": ["C2", "spare"], "range": [-34, 75], "paddingInner": 0, "paddingOuter": 0}},
            "y": {"datum": "l1", "type": "nominal", "bandPosition": 0.45, "axis": null, "scale": {"type": "band", "domain": ["head", "l1", "l2"], "range": [342, 370.8], "paddingInner": 0, "paddingOuter": 0}},
            "text": {"field": "scale"}
          }
        },
        {
          "data": {"name": "channel"},
          "mark": {"type": "text", "align": "right", "baseline": "middle", "fontSize": 7.5, "color": "#ffffff", "dx": -2},
          "encoding": {
            "x": {"field": "widget", "type": "nominal", "bandPosition": 1, "axis": null, "scale": {"type": "band", "domain": ["C2", "spare"], "range": [-34, 75], "paddingInner": 0, "paddingOuter": 0}},
            "y": {"datum": "l2", "type": "nominal", "bandPosition": 0.4, "axis": null, "scale": {"type": "band", "domain": ["head", "l1", "l2"], "range": [342, 370.8], "paddingInner": 0, "paddingOuter": 0}},
            "text": {"field": "offset"}
          }
        },
        {
          "data": {"name": "channel"},
          "mark": {"type": "rect", "fill": "#ffffff", "fillOpacity": 0, "stroke": "#a0a0a0", "strokeWidth": 1, "strokeDash": [2, 2]},
          "encoding": {
            "x": {"datum": "spare", "type": "nominal", "axis": null, "scale": {"type": "band", "domain": ["C2", "spare"], "range": [-34, 75], "paddingInner": 0, "paddingOuter": 0}},
            "y": {"datum": "head", "type": "nominal", "bandPosition": 0, "axis": null, "scale": {"type": "band", "domain": ["head", "l1", "l2"], "range": [342, 370.8], "paddingInner": 0, "paddingOuter": 0}},
            "y2": {"datum": "l2", "bandPosition": 1}
          }
        }
      ]
    },
    {
      "resolve": {"scale": {"x": "independent"}},
      "layer": [
        {
          "data": {"name": "acq"},
          "transform": [{"filter": "datum.line === 'head'"}],
          "mark": {"type": "rect", "fill": "#474747"},
          "encoding": {
            "x": {"field": "widget", "type": "nominal", "axis": null, "scale": {"type": "band", "domain": ["Tbase", "Trigger"], "range": [483.5, 598], "paddingInner": 0.012, "paddingOuter": 0}},
            "y": {"datum": "head", "type": "nominal", "bandPosition": 0, "axis": null, "scale": {"type": "band", "domain": ["head", "l1", "l2"], "range": [342, 369.6], "paddingInner": 0, "paddingOuter": 0}},
            "y2": {"datum": "l2", "bandPosition": 1}
          }
        },
        {
          "data": {"name": "acq"},
          "transform": [{"filter": "datum.line === 'head'"}],
          "mark": {"type": "rect", "fill": "#cacaca"},
          "encoding": {
            "x": {"field": "widget", "type": "nominal", "axis": null, "scale": {"type": "band", "domain": ["Tbase", "Trigger"], "range": [483.5, 598], "paddingInner": 0.012, "paddingOuter": 0}},
            "y": {"datum": "head", "type": "nominal", "bandPosition": 0, "axis": null, "scale": {"type": "band", "domain": ["head", "l1", "l2"], "range": [342, 369.6], "paddingInner": 0, "paddingOuter": 0}},
            "y2": {"datum": "head", "bandPosition": 0.7}
          }
        },
        {
          "data": {"name": "tags"},
          "mark": {"type": "rect", "fill": "#111111"},
          "encoding": {
            "x": {"field": "tag", "type": "nominal", "axis": null, "scale": {"type": "band", "domain": ["C1", "DC"], "range": [573, 597], "paddingInner": 0.06, "paddingOuter": 0}},
            "y": {"datum": "head", "type": "nominal", "bandPosition": 0.04, "axis": null, "scale": {"type": "band", "domain": ["head", "l1", "l2"], "range": [342, 369.6], "paddingInner": 0, "paddingOuter": 0}},
            "y2": {"datum": "head", "bandPosition": 0.68}
          }
        },
        {
          "data": {"name": "tags"},
          "mark": {"type": "text", "align": "center", "baseline": "middle", "fontSize": 6.5, "color": "#ffffff"},
          "encoding": {
            "x": {"field": "tag", "type": "nominal", "bandPosition": 0.5, "axis": null, "scale": {"type": "band", "domain": ["C1", "DC"], "range": [573, 597], "paddingInner": 0.06, "paddingOuter": 0}},
            "y": {"datum": "head", "type": "nominal", "bandPosition": 0.38, "axis": null, "scale": {"type": "band", "domain": ["head", "l1", "l2"], "range": [342, 369.6], "paddingInner": 0, "paddingOuter": 0}},
            "text": {"field": "tag"}
          }
        },
        {
          "data": {"name": "acq"},
          "transform": [{"filter": "datum.line === 'head'"}],
          "mark": {"type": "text", "align": "left", "baseline": "middle", "fontSize": 7.5, "color": "#1a1a1a", "dx": 1.5},
          "encoding": {
            "x": {"field": "widget", "type": "nominal", "bandPosition": 0, "axis": null, "scale": {"type": "band", "domain": ["Tbase", "Trigger"], "range": [483.5, 598], "paddingInner": 0.012, "paddingOuter": 0}},
            "y": {"field": "line", "type": "nominal", "bandPosition": 0.38, "axis": null, "scale": {"type": "band", "domain": ["head", "l1", "l2"], "range": [342, 369.6], "paddingInner": 0, "paddingOuter": 0}},
            "text": {"field": "left"}
          }
        },
        {
          "data": {"name": "acq"},
          "transform": [{"filter": "datum.line === 'head'"}],
          "mark": {"type": "text", "align": "right", "baseline": "middle", "fontSize": 7.5, "color": "#1a1a1a", "dx": -1.5},
          "encoding": {
            "x": {"field": "widget", "type": "nominal", "bandPosition": 1, "axis": null, "scale": {"type": "band", "domain": ["Tbase", "Trigger"], "range": [483.5, 598], "paddingInner": 0.012, "paddingOuter": 0}},
            "y": {"field": "line", "type": "nominal", "bandPosition": 0.38, "axis": null, "scale": {"type": "band", "domain": ["head", "l1", "l2"], "range": [342, 369.6], "paddingInner": 0, "paddingOuter": 0}},
            "text": {"field": "right"}
          }
        },
        {
          "data": {"name": "acq"},
          "transform": [{"filter": "datum.line !== 'head'"}],
          "mark": {"type": "text", "align": "left", "baseline": "middle", "fontSize": 7.5, "color": "#f4f4f4", "dx": 1.5},
          "encoding": {
            "x": {"field": "widget", "type": "nominal", "bandPosition": 0, "axis": null, "scale": {"type": "band", "domain": ["Tbase", "Trigger"], "range": [483.5, 598], "paddingInner": 0.012, "paddingOuter": 0}},
            "y": {"field": "line", "type": "nominal", "bandPosition": 0.5, "axis": null, "scale": {"type": "band", "domain": ["head", "l1", "l2"], "range": [342, 369.6], "paddingInner": 0, "paddingOuter": 0}},
            "text": {"field": "left"}
          }
        },
        {
          "data": {"name": "acq"},
          "transform": [{"filter": "datum.line !== 'head'"}],
          "mark": {"type": "text", "align": "right", "baseline": "middle", "fontSize": 7.5, "color": "#f4f4f4", "dx": -1.5},
          "encoding": {
            "x": {"field": "widget", "type": "nominal", "bandPosition": 1, "axis": null, "scale": {"type": "band", "domain": ["Tbase", "Trigger"], "range": [483.5, 598], "paddingInner": 0.012, "paddingOuter": 0}},
            "y": {"field": "line", "type": "nominal", "bandPosition": 0.5, "axis": null, "scale": {"type": "band", "domain": ["head", "l1", "l2"], "range": [342, 369.6], "paddingInner": 0, "paddingOuter": 0}},
            "text": {"field": "right"}
          }
        }
      ]
    }
  ]
}
